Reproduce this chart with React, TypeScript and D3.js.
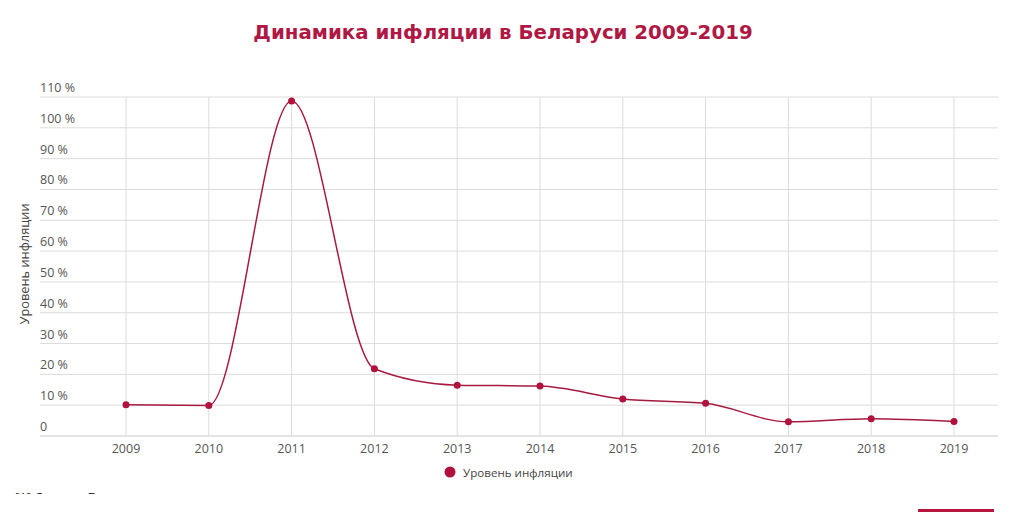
import { useEffect, useRef } from 'react';
import * as d3 from 'd3';

const years = ['2009', '2010', '2011', '2012', '2013', '2014', '2015', '2016', '2017', '2018', '2019'];
const inflation = [10.1, 9.9, 108.7, 21.8, 16.5, 16.2, 12.0, 10.6, 4.6, 5.6, 4.7];
const yTicks = [0, 10, 20, 30, 40, 50, 60, 70, 80, 90, 100, 110];

const seriesName = 'Уровень инфляции';
const titleText = 'Динамика инфляции в Беларуси 2009-2019';

const LINE = '#a61a40';
const DOT = '#b0123d';
const FONT = '"Open Sans", "Noto Sans", sans-serif';

export default function App() {
  const svgRef = useRef<SVGSVGElement>(null);

  useEffect(() => {
    const svg = d3.select(svgRef.current);
    svg.selectAll('*').remove();

    const left = 40, right = 998, top = 97, bottom = 436;

    const x = d3.scalePoint<string>().domain(years).range([126, 954]);
    const y = d3.scaleLinear().domain([0, 110]).range([bottom, top]);

    svg.append('text')
      .attr('x', 503).attr('y', 39)
      .attr('text-anchor', 'middle')
      .attr('font-family', '"DejaVu Sans", Verdana, sans-serif')
      .attr('font-weight', 'bold')
      .attr('font-size', 19.8)
      .attr('fill', '#b01844')
      .text(titleText);

    // horizontal grid + labels
    const gy = svg.append('g');
    gy.selectAll('line')
      .data(yTicks)
      .enter().append('line')
      .attr('x1', left).attr('x2', right)
      .attr('y1', d => y(d)).attr('y2', d => y(d))
      .attr('stroke', d => d === 0 ? '#c8c8c8' : '#dcdcdc')
      .attr('stroke-width', 1);
    gy.selectAll('text')
      .data(yTicks)
      .enter().append('text')
      .attr('x', left)
      .attr('y', d => y(d) - 5)
      .attr('font-family', FONT)
      .attr('font-size', 12.5)
      .attr('fill', '#555')
      .text(d => d === 0 ? '0' : `${d} %`);

    // vertical grid + year labels
    const gx = svg.append('g');
    gx.selectAll('line')
      .data(years)
      .enter().append('line')
      .attr('x1', d => x(d)!).attr('x2', d => x(d)!)
      .attr('y1', top).attr('y2', bottom)
      .attr('stroke', '#dcdcdc')
      .attr('stroke-width', 1);
    gx.selectAll('text')
      .data(years)
      .enter().append('text')
      .attr('x', d => x(d)!)
      .attr('y', 453)
      .attr('text-anchor', 'middle')
      .attr('font-family', FONT)
      .attr('font-size', 12.5)
      .attr('fill', '#555')
      .text(d => d);

    svg.append('text')
      .attr('transform', 'translate(29,264) rotate(-90)')
      .attr('text-anchor', 'middle')
      .attr('font-family', FONT)
      .attr('font-size', 12.8)
      .attr('fill', '#444')
      .text(seriesName);

    const line = d3.line<number>()
      .x((d, i) => x(years[i])!)
      .y(d => y(d))
      .curve(d3.curveMonotoneX);

    svg.append('path')
      .datum(inflation)
      .attr('fill', 'none')
      .attr('stroke', LINE)
      .attr('stroke-width', 1.5)
      .attr('d', line);

    svg.selectAll('.pt')
      .data(inflation)
      .enter().append('circle')
      .attr('cx', (d, i) => x(years[i])!)
      .attr('cy', d => y(d))
      .attr('r', 3.5)
      .attr('fill', DOT);

    // legend
    svg.append('circle')
      .attr('cx', 450).attr('cy', 472).attr('r', 5.5)
      .attr('fill', DOT);
    svg.append('text')
      .attr('x', 463).attr('y', 477)
      .attr('font-family', FONT)
      .attr('font-size', 11.6)
      .attr('fill', '#444')
      .text(seriesName);

    // cut-off footnote and button at the bottom edge
    svg.append('clipPath').attr('id', 'footclip')
      .append('rect').attr('x', 0).attr('y', 486).attr('width', 400).attr('height', 8);
    svg.append('text')
      .attr('clip-path', 'url(#footclip)')
      .attr('x', 15).attr('y', 502)
      .attr('font-family', FONT)
      .attr('font-size', 13)
      .attr('fill', '#333')
      .text('[1] Данные Белстата');
    svg.append('rect')
      .attr('x', 918).attr('y', 509).attr('width', 76).attr('height', 3)
      .attr('fill', '#b5173f');
  }, []);

  return (
    <svg
      ref={svgRef}
      width={1024}
      height={512}
      viewBox="0 0 1024 512"
      style={{ position: 'absolute', left: 0, top: 0, background: '#fff' }}
    />
  );
}
